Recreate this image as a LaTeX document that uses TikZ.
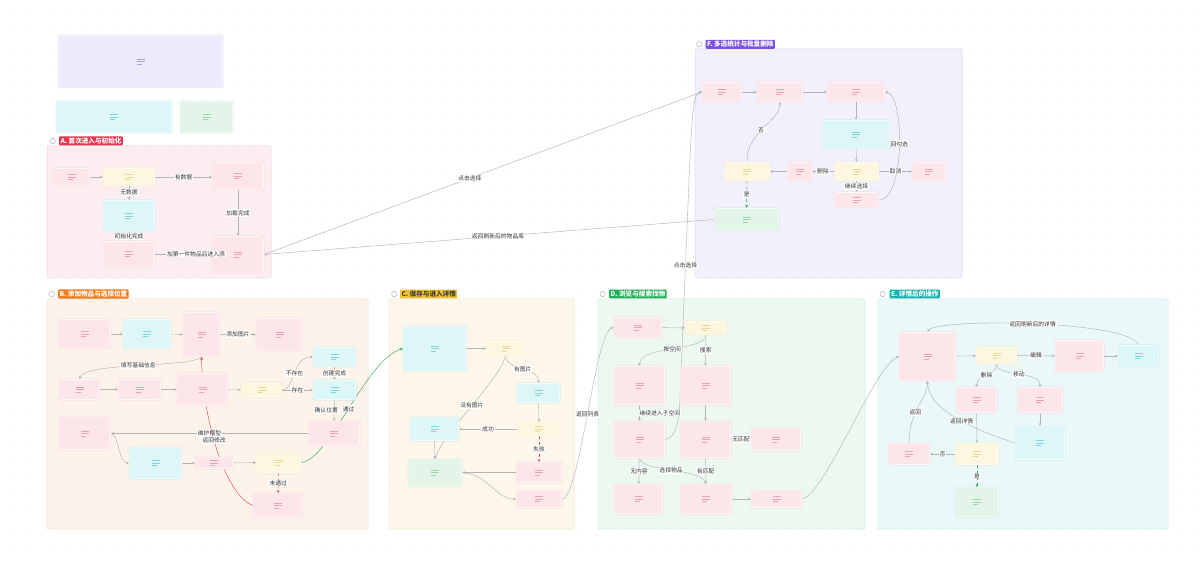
\documentclass[tikz,border=0pt]{standalone}
\usepackage{fontspec}
\setmainfont{Noto Sans CJK SC}
\usepackage{xcolor}
\usetikzlibrary{arrows.meta, positioning, calc}

\definecolor{dotC}{HTML}{D9D9D9}
\definecolor{edgeC}{HTML}{B3B3B3}
\definecolor{redE}{HTML}{D9485F}
\definecolor{grnE}{HTML}{2FA65A}
\definecolor{pkF}{HTML}{FDE6E9}\definecolor{pkB}{HTML}{F6CDD3}\definecolor{pkI}{HTML}{E8A3AE}
\definecolor{ylF}{HTML}{FDF7DF}\definecolor{ylB}{HTML}{F1E4B8}\definecolor{ylI}{HTML}{E8D89A}
\definecolor{cyF}{HTML}{DDF6F7}\definecolor{cyB}{HTML}{B7E6E9}\definecolor{cyI}{HTML}{86D3D7}
\definecolor{gnF}{HTML}{E2F5E8}\definecolor{gnB}{HTML}{C2E5CC}\definecolor{gnI}{HTML}{9CD6AD}
\definecolor{ppF}{HTML}{EEEAFB}\definecolor{ppB}{HTML}{DCD4F4}\definecolor{ppI}{HTML}{B4A6E3}
\definecolor{gAF}{HTML}{FCEEF0}\definecolor{gAB}{HTML}{F5D0D6}
\definecolor{gBF}{HTML}{FDF3EA}\definecolor{gBB}{HTML}{F4DDC8}
\definecolor{gCF}{HTML}{FCF7EA}\definecolor{gCB}{HTML}{F1E6C6}
\definecolor{gDF}{HTML}{EDF8F1}\definecolor{gDB}{HTML}{CBEBD6}
\definecolor{gEF}{HTML}{EAF8F8}\definecolor{gEB}{HTML}{C4E9EA}
\definecolor{gFF}{HTML}{F2F0FC}\definecolor{gFB}{HTML}{DAD4F4}
\definecolor{bA}{HTML}{E8344E}\definecolor{bB}{HTML}{F07C1F}
\definecolor{bC}{HTML}{F1C232}\definecolor{bD}{HTML}{1FAF58}
\definecolor{bE}{HTML}{17B1AE}\definecolor{bF}{HTML}{7B50E2}

\pgfdeclarelayer{bg}
\pgfdeclarelayer{edges}
\pgfsetlayers{bg,edges,main}

\tikzset{
  bx/.style n args={3}{rectangle, rounded corners=1.5pt, draw=#2, line width=0.5pt,
    fill=white, inner sep=0pt, outer sep=0pt,
    path picture={
      \fill[#1, rounded corners=1pt]
        ([shift={(1.2pt,-1.2pt)}]path picture bounding box.north west) rectangle
        ([shift={(-1.2pt,1.2pt)}]path picture bounding box.south east);
      \draw[#3, line width=0.6pt]
        ([shift={(-4pt,2.5pt)}]path picture bounding box.center) -- ++(8pt,0)
        ++(-8pt,-2.5pt) -- ++(8pt,0) ++(-8pt,-2.5pt) -- ++(5pt,0);
    }},
  pk/.style={bx={pkF}{pkB}{pkI}},
  yl/.style={bx={ylF}{ylB}{ylI}},
  cy/.style={bx={cyF}{cyB}{cyI}},
  gn/.style={bx={gnF}{gnB}{gnI}},
  pp/.style={bx={ppF}{ppB}{ppI}},
  grp/.style n args={2}{fill=#1, draw=#2, line width=0.5pt, rounded corners=2pt},
  badge/.style={anchor=west, fill=#1, text=white, rounded corners=1pt, inner sep=1.3pt,
    font=\fontsize{6.6}{7.2}\selectfont\bfseries},
  gear/.style={circle, draw=black!35, line width=0.4pt, minimum size=5.5pt, inner sep=0pt},
  ed/.style={draw=edgeC, line width=0.45pt, -{Stealth[length=3pt,width=2.6pt]}},
  edR/.style={ed, draw=redE, -{Stealth[length=3pt,width=2.8pt,fill=redE]}},
  edG/.style={ed, draw=grnE, -{Stealth[length=3pt,width=2.8pt,fill=grnE]}},
  lbl/.style={fill=white, inner sep=0.8pt, text=black!80, font=\fontsize{5.8}{6.5}\selectfont},
}

\begin{document}
\begin{tikzpicture}[x=1pt, y=-1pt]
  \useasboundingbox (0,0) rectangle (1200,561);

  % dotted canvas and group frames
  \begin{pgfonlayer}{bg}
    \fill[white] (0,0) rectangle (1200,561);
    \foreach \x in {10,25,...,1195}
      \foreach \y in {10,25,...,555}
        \fill[dotC] (\x,\y) circle (0.45pt);
    \draw[grp={gAF}{gAB}] (47,146) rectangle (271,278);
    \draw[grp={gFF}{gFB}] (695,49) rectangle (962,278);
    \draw[grp={gBF}{gBB}] (47,299) rectangle (368,529);
    \draw[grp={gCF}{gCB}] (389,299) rectangle (574,529);
    \draw[grp={gDF}{gDB}] (598,299) rectangle (865,529);
    \draw[grp={gEF}{gEB}] (878,299) rectangle (1168,529);
  \end{pgfonlayer}

  % legend boxes
  \node[pp, minimum width=165, minimum height=53] (lg1) at (140.5,61.5) {};
  \node[cy, minimum width=116, minimum height=32] (lg2) at (114,117) {};
  \node[gn, minimum width=53, minimum height=32] (lg3) at (206.5,117) {};

  % group headers
  \node[gear] (gA) at (52.7,141) {};
  \node[badge=bA] (tA) at (59,141) {A. 首次进入与初始化};
  \node[gear] (gF) at (699.3,44.3) {};
  \node[badge=bF] (tF) at (705.5,44.3) {F. 多选统计与批量删除};
  \node[gear] (gB) at (51.7,294) {};
  \node[badge=bB] (tB) at (58,294) {B. 添加物品与选择位置};
  \node[gear] (gC) at (394.3,294) {};
  \node[badge=bC, text=black!75] (tC) at (400,294) {C. 保存与进入详情};
  \node[gear] (gD) at (602.7,294) {};
  \node[badge=bD] (tD) at (609,294) {D. 浏览与搜索找物};
  \node[gear] (gE) at (882.7,294) {};
  \node[badge=bE] (tE) at (889.5,294) {E. 详情后的操作};

  % A: first entry
  \node[pk, minimum width=37, minimum height=18] (a1) at (71.5,177) {};
  \node[yl, minimum width=52, minimum height=18] (a2) at (129,177) {};
  \node[pk, minimum width=52, minimum height=28] (a3) at (238,176) {};
  \node[cy, minimum width=52, minimum height=32] (a4) at (129,216) {};
  \node[pk, minimum width=52, minimum height=26] (a5) at (129,254) {};
  \node[pk, minimum width=52, minimum height=37] (a6) at (238,254.5) {};

  % F: multi select
  \node[pk, minimum width=40, minimum height=20] (f1) at (722,92) {};
  \node[pk, minimum width=46, minimum height=20] (f2) at (780,92) {};
  \node[pk, minimum width=58, minimum height=20] (f3) at (856,92) {};
  \node[cy, minimum width=68, minimum height=29] (f4) at (856,134.5) {};
  \node[yl, minimum width=45, minimum height=19] (f5) at (856.5,171.5) {};
  \node[pk, minimum width=25, minimum height=19] (f6) at (799.5,171.5) {};
  \node[yl, minimum width=46, minimum height=19] (f7) at (747,171.5) {};
  \node[pk, minimum width=34, minimum height=19] (f8) at (929,171.5) {};
  \node[pk, minimum width=45, minimum height=16] (f9) at (856.5,200) {};
  \node[gn, minimum width=65, minimum height=23] (f10) at (746.5,219.5) {};

  % B: add item
  \node[pk, minimum width=53, minimum height=30] (b1) at (84.5,334) {};
  \node[cy, minimum width=48, minimum height=30] (b2) at (147,334) {};
  \node[pk, minimum width=37, minimum height=45] (b3) at (201.5,334.5) {};
  \node[pk, minimum width=47, minimum height=33] (b4) at (279.5,334.5) {};
  \node[cy, minimum width=43, minimum height=20] (b5) at (334.5,357) {};
  \node[pk, minimum width=41, minimum height=21] (b6) at (79.5,389.5) {};
  \node[pk, minimum width=43, minimum height=21] (b7) at (139.5,389.5) {};
  \node[pk, minimum width=51, minimum height=33] (b8) at (202.5,389.5) {};
  \node[yl, minimum width=41, minimum height=14] (b9) at (261.5,390) {};
  \node[cy, minimum width=43, minimum height=20] (b10) at (334.5,390) {};
  \node[pk, minimum width=52, minimum height=33] (b11) at (85,433.5) {};
  \node[pk, minimum width=52, minimum height=25] (b12) at (334,433.5) {};
  \node[cy, minimum width=53, minimum height=32] (b13) at (155.5,463) {};
  \node[pk, minimum width=38, minimum height=12] (b14) at (214,463) {};
  \node[yl, minimum width=45, minimum height=21] (b15) at (278.5,462.5) {};
  \node[pk, minimum width=50, minimum height=25] (b16) at (278,505.5) {};

  % C: save
  \node[cy, minimum width=63, minimum height=45] (c1) at (434.5,348.5) {};
  \node[yl, minimum width=39, minimum height=15] (c2) at (505.5,348.5) {};
  \node[cy, minimum width=43, minimum height=20] (c3) at (538.5,393) {};
  \node[yl, minimum width=44, minimum height=14] (c4) at (539,429) {};
  \node[cy, minimum width=49, minimum height=24] (c5) at (434.5,429) {};
  \node[gn, minimum width=54, minimum height=27] (c6) at (435,472.5) {};
  \node[pk, minimum width=46, minimum height=21] (c7) at (539,472.5) {};
  \node[pk, minimum width=46, minimum height=18] (c8) at (539,499) {};

  % D: browse and search
  \node[pk, minimum width=48, minimum height=21] (d1) at (638,327.5) {};
  \node[yl, minimum width=42, minimum height=14] (d2) at (706,328) {};
  \node[pk, minimum width=51, minimum height=39] (d3) at (639.5,385.5) {};
  \node[pk, minimum width=51, minimum height=39] (d4) at (705.5,385.5) {};
  \node[pk, minimum width=51, minimum height=37] (d5) at (639.5,439.5) {};
  \node[pk, minimum width=51, minimum height=37] (d6) at (705.5,439.5) {};
  \node[pk, minimum width=50, minimum height=23] (d7) at (776,439.5) {};
  \node[pk, minimum width=49, minimum height=30] (d8) at (638.5,499) {};
  \node[pk, minimum width=52, minimum height=30] (d9) at (706,499) {};
  \node[pk, minimum width=51, minimum height=18] (d10) at (776.5,499) {};

  % E: after details
  \node[pk, minimum width=57, minimum height=49] (e1) at (927.5,356.5) {};
  \node[yl, minimum width=41, minimum height=17] (e2) at (996.5,355.5) {};
  \node[pk, minimum width=49, minimum height=32] (e3) at (1079.5,356) {};
  \node[cy, minimum width=41, minimum height=22] (e4) at (1138.5,356) {};
  \node[pk, minimum width=41, minimum height=26] (e5) at (976.5,400) {};
  \node[pk, minimum width=46, minimum height=26] (e6) at (1040,400) {};
  \node[cy, minimum width=50, minimum height=34] (e7) at (1040,443) {};
  \node[yl, minimum width=44, minimum height=22] (e8) at (977,454) {};
  \node[pk, minimum width=42, minimum height=22] (e9) at (909,454) {};
  \node[gn, minimum width=44, minimum height=30] (e10) at (977,502) {};

  \begin{pgfonlayer}{edges}
    % A
    \draw[ed] (a1) -- (a2);
    \draw[ed] (a2) -- node[lbl] {有数据} (a2.east -| a3.west);
    \draw[ed] (a2) -- node[lbl, pos=0.45] {无数据} (a4);
    \draw[ed] (a4) -- node[lbl] {初始化完成} (a5);
    \draw[ed] (a3) -- node[lbl] {加载完成} (a6);

    % between groups
    \draw[ed] (a6.east) -- node[lbl, pos=0.47] {点击选择} (f1.west);
    \draw[ed] (f10.west) -- node[lbl, pos=0.48] {返回刷新后的物品库} (a6.east);
    \draw[ed] (d5.east) .. controls (676,439) and (679,420) .. (680,400)
      -- node[lbl, pos=0.61] {点击选择} (689,180)
      .. controls (692,110) and (694,92) .. (f1.west);

    % F
    \draw[ed] (f1) -- (f2);
    \draw[ed] (f2) -- (f3);
    \draw[ed] (f3) -- (f4);
    \draw[ed] (f4) -- (f5);
    \draw[ed] (f5) -- node[lbl] {删除} (f6);
    \draw[ed] (f6) -- (f7);
    \draw[ed] (f5) -- node[lbl] {取消} (f8);
    \draw[ed] (f7.north) .. controls (747,130) and (780,122) .. node[lbl, pos=0.45] {否} (f2.south);
    \draw[edG, dashed] (f7) -- node[lbl, solid] {是} (f10);
    \draw[ed] (f5) -- node[lbl] {继续选择} (f9);
    \draw[ed] (f9.east) .. controls (905,200) and (905,95) .. node[lbl, pos=0.52] {回勾选} (f3.east);

    % B
    \draw[ed] (b1) -- (b2);
    \draw[ed] (b2) -- (b3);
    \draw[ed] (b3) -- node[lbl] {添加图片} (b4);
    \draw[ed] (b3.south) .. controls (190,368) and (85,362) .. node[lbl] {填写基础信息} (b6.north);
    \draw[ed] (b6) -- (b7);
    \draw[ed] (b7) -- (b8);
    \draw[ed] (b8) -- (b9);
    \draw[ed] (b9.east) .. controls (295,390) and (292,357) .. node[lbl] {不存在} (b5.west);
    \draw[ed] (b9) -- node[lbl] {存在} (b10);
    \draw[ed] (b5) -- node[lbl] {创建完成} (b10);
    \draw[ed] (b10) -- node[lbl, xshift=-8pt] {确认位置} (b12);
    \draw[ed] (b12) -- node[lbl] {维护模型} (b11);
    \draw[ed] (b11.east) .. controls (120,436) and (118,463) .. (b13.west);
    \draw[ed] (b13) -- (b14);
    \draw[ed] (b14) -- (b15);
    \draw[edR, dashed] (b15) -- node[lbl, solid] {未通过} (b16);
    \draw[edR] (b16.west) .. controls (225,495) and (203,420) .. node[lbl, pos=0.56] {返回修改} (b3.south);
    \draw[edG] (b15.east) .. controls (330,460) and (365,360) .. node[lbl, pos=0.5] {通过} (c1.west);

    % C
    \draw[ed] (c1) -- (c2);
    \draw[ed] (c2.south) .. controls (508,372) and (538,366) .. node[lbl] {有图片} (c3.north);
    \draw[ed] (c2.south) .. controls (500,380) and (445,430) .. node[lbl] {没有图片} (c6.north);
    \draw[ed] (c3) -- (c4);
    \draw[ed] (c4) -- node[lbl] {成功} (c5);
    \draw[edR, dashed] (c4) -- node[lbl, solid] {失败} (c7);
    \draw[ed] (c5) -- (c6);
    \draw[ed] (c7) -- (c6);
    \draw[ed] (c6.east) .. controls (490,475) and (495,499) .. (c8.west);
    \draw[ed] (c8.east) .. controls (580,499) and (595,330) .. node[lbl] {返回列表} (d1.west);

    % D
    \draw[ed] (d1) -- (d2);
    \draw[ed] (d2.south) .. controls (704,352) and (640,345) .. node[lbl] {按空间} (d3.north);
    \draw[ed] (d2.south) -- node[lbl] {搜索} (d4.north);
    \draw[ed] (d3) -- node[lbl, right=-1pt] {继续进入子空间} (d5);
    \draw[ed] (d4) -- (d6);
    \draw[ed] (d6) -- node[lbl] {无匹配} (d7);
    \draw[ed] (d5) -- node[lbl] {无内容} (d8);
    \draw[ed] (d5.south) .. controls (641,472) and (700,468) .. node[lbl] {选择物品} (d9.north);
    \draw[ed] (d6) -- node[lbl] {有匹配} (d9);
    \draw[ed] (d9) -- (d10);
    \draw[ed] (d10.east) .. controls (825,495) and (875,365) .. (e1.west);

    % E
    \draw[ed] (e1) -- (e2);
    \draw[ed] (e2) -- node[lbl] {编辑} (e3);
    \draw[ed] (e3) -- (e4);
    \draw[ed] (e4.north) .. controls (1130,320) and (935,318) .. node[lbl] {返回刷新后的详情} (e1.north);
    \draw[ed] (e2.south) .. controls (996,378) and (977,372) .. node[lbl] {删除} (e5.north);
    \draw[ed] (e2.south) .. controls (998,378) and (1040,370) .. node[lbl] {移动} (e6.north);
    \draw[ed] (e6) -- (e7);
    \draw[ed] (e7.west) .. controls (975,430) and (928,410) .. node[lbl, pos=0.45] {返回详情} (e1.south);
    \draw[ed] (e5) -- (e8);
    \draw[ed] (e8) -- node[lbl] {否} (e9);
    \draw[edG, dashed] (e8) -- node[lbl, solid] {是} (e10);
    \draw[ed] (e9.north) .. controls (909,410) and (927,400) .. node[lbl, pos=0.4] {返回} (e1.south);
  \end{pgfonlayer}

  % label lies over the boxes
  \draw[ed] (a5) -- node[lbl, pos=0.72] {加第一件物品后进入添} (a5.east -| a6.west);
\end{tikzpicture}
\end{document}
